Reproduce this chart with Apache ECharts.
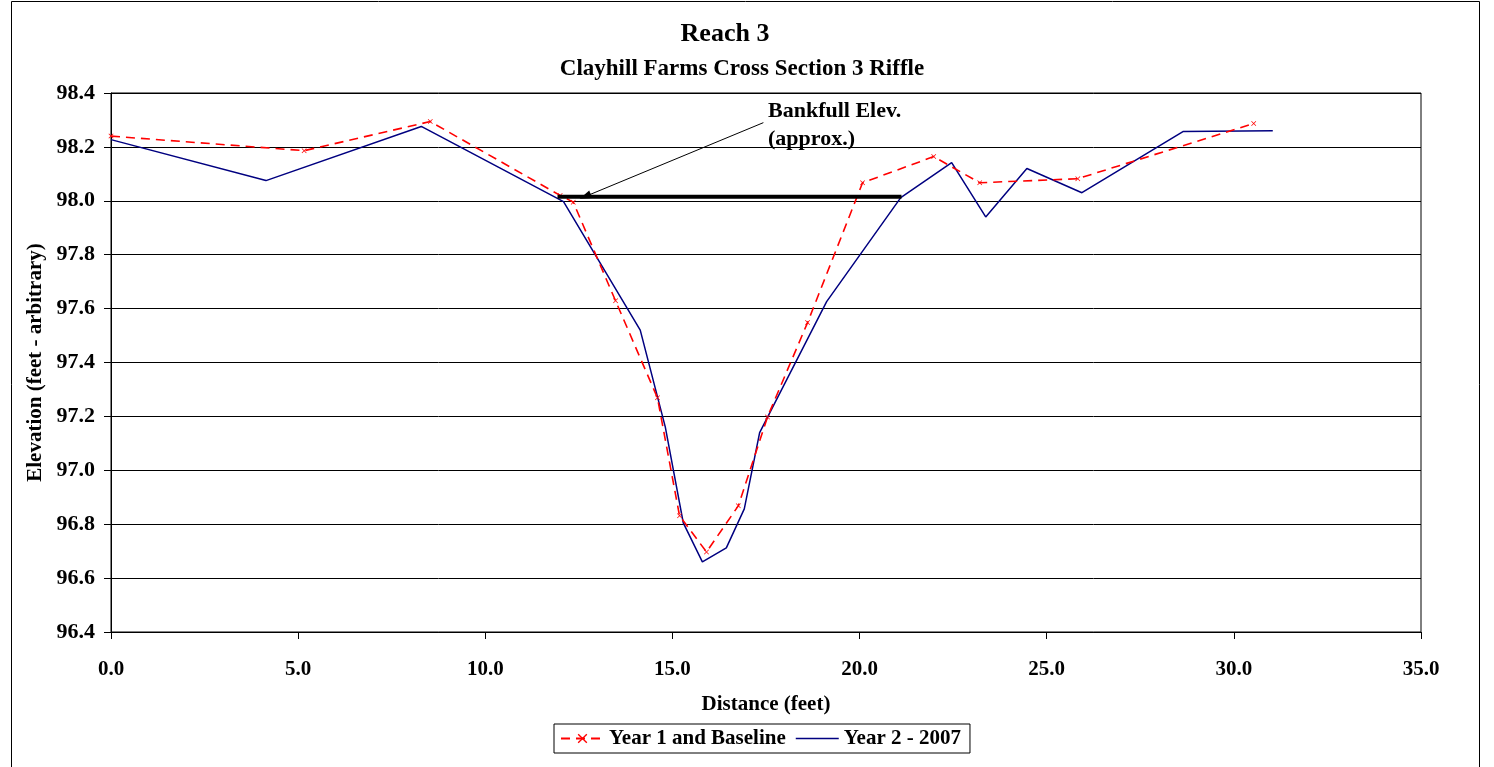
<!DOCTYPE html>
<html>
<head>
<meta charset="utf-8">
<title>Reach 3</title>
<script src="https://cdn.jsdelivr.net/npm/echarts@6/dist/echarts.min.js"></script>
<style>
  html, body { margin: 0; padding: 0; background: #fff; }
  #chart { width: 1494px; height: 767px; }
</style>
</head>
<body>
<div id="chart"></div>
<script>
// 数据
var year1Dist = [0.0, 5.16, 8.53, 12.0, 12.35, 13.48, 14.6, 15.19, 15.91, 16.76, 17.54, 18.61, 20.08, 21.98, 23.21, 25.83, 30.53];
var year1Elev = [98.24, 98.186, 98.294, 98.02, 97.995, 97.629, 97.269, 96.831, 96.697, 96.868, 97.198, 97.548, 98.067, 98.164, 98.067, 98.082, 98.287];

var year2Dist = [0.0, 4.14, 8.29, 12.09, 14.14, 14.81, 15.29, 15.8, 16.44, 16.92, 17.33, 19.12, 21.1, 22.46, 23.37, 24.47, 25.94, 28.64, 31.04];
var year2Elev = [98.227, 98.075, 98.276, 97.997, 97.52, 97.16, 96.805, 96.66, 96.712, 96.857, 97.14, 97.626, 98.012, 98.142, 97.94, 98.12, 98.03, 98.257, 98.26];

// bankfull line and arrow
var bankfullDist = [11.93, 21.12];
var bankfullElev = 98.015;
var arrowFrom = [17.43, 98.29];
var arrowTo = [12.67, 98.016];

function pairs(xs, ys) {
    var out = [];
    for (var i = 0; i < xs.length; i++) {
        out.push([xs[i], ys[i]]);
    }
    return out;
}

var font = 'Liberation Serif';
var myChart = echarts.init(document.getElementById('chart'));

var option = {
    backgroundColor: '#fff',
    animation: false,
    textStyle: { fontFamily: font },
    title: [
        { text: 'Reach 3', left: 720, top: 16, textAlign: 'center',
          textStyle: { fontFamily: font, fontSize: 26, fontWeight: 'bold', color: '#000' } },
        { text: 'Clayhill Farms Cross Section 3 Riffle', left: 737, top: 53, textAlign: 'center',
          textStyle: { fontFamily: font, fontSize: 23, fontWeight: 'bold', color: '#000' } }
    ],
    grid: {
        left: 111, top: 93, right: 73, bottom: 135,
        show: true, borderColor: '#000', borderWidth: 1, backgroundColor: '#fff'
    },
    legend: {
        left: 554, top: 724,
        padding: [4, 9, 4, 6],
        itemGap: 10,
        itemWidth: 43,
        itemHeight: 12,
        borderColor: '#000',
        borderWidth: 1,
        textStyle: { fontFamily: font, fontSize: 21, fontWeight: 'bold', color: '#000' },
        data: [
            { name: 'Year 1 and Baseline' },
            { name: 'Year 2 - 2007', icon: 'path://M0 0H40V1.5H0Z' }
        ]
    },
    xAxis: {
        type: 'value',
        min: 0, max: 35, interval: 5,
        name: 'Distance (feet)',
        nameLocation: 'middle',
        nameGap: 62,
        nameTextStyle: { fontFamily: font, fontSize: 21, fontWeight: 'bold', color: '#000' },
        axisLine: { show: true, onZero: false, lineStyle: { color: '#000', width: 1 } },
        axisTick: { show: true, length: 7, lineStyle: { color: '#000' } },
        axisLabel: {
            margin: 27, fontFamily: font, fontSize: 21, fontWeight: 'bold', color: '#000',
            formatter: function (v) { return v.toFixed(1); }
        },
        splitLine: { show: false }
    },
    yAxis: {
        type: 'value',
        min: 96.4, max: 98.4, interval: 0.2,
        name: 'Elevation (feet - arbitrary)',
        nameLocation: 'middle',
        nameGap: 63,
        nameTextStyle: { fontFamily: font, fontSize: 21, fontWeight: 'bold', color: '#000' },
        axisLine: { show: true, lineStyle: { color: '#000', width: 1 } },
        axisTick: { show: true, length: 7, lineStyle: { color: '#000' } },
        axisLabel: {
            margin: 16, fontFamily: font, fontSize: 22, fontWeight: 'bold', color: '#000',
            formatter: function (v) { return v.toFixed(1); }
        },
        splitLine: { show: true, lineStyle: { color: '#000', width: 1 } }
    },
    series: [
        {
            name: 'Year 1 and Baseline',
            type: 'line',
            data: pairs(year1Dist, year1Elev),
            symbol: 'path://M0 1L1 0L5 4L9 0L10 1L6 5L10 9L9 10L5 6L1 10L0 9L4 5Z',
            symbolSize: 5,
            itemStyle: { color: '#ff0000' },
            lineStyle: { color: '#ff0000', width: 1.6, type: [9, 6] },
            z: 3
        },
        {
            name: 'Year 2 - 2007',
            type: 'line',
            data: pairs(year2Dist, year2Elev),
            symbol: 'none',
            itemStyle: { color: '#000080' },
            lineStyle: { color: '#000080', width: 1.5 },
            z: 2
        },
        {
            // bankfull elevation line with arrow annotation
            name: 'Bankfull',
            type: 'line',
            data: [[bankfullDist[0], bankfullElev], [bankfullDist[1], bankfullElev]],
            symbol: 'none',
            lineStyle: { color: '#000', width: 4 },
            z: 4,
            silent: true,
            markLine: {
                silent: true,
                symbol: ['none', 'triangle'],
                symbolSize: [8, 12],
                label: { show: false },
                lineStyle: { color: '#000', width: 1, type: 'solid' },
                data: [[{ coord: arrowFrom }, { coord: arrowTo }]]
            }
        }
    ],
    graphic: [
        {
            type: 'rect',
            shape: { x: 11.5, y: 1.5, width: 1468, height: 770 },
            style: { fill: null, stroke: '#000', lineWidth: 1 },
            silent: true
        },
        {
            type: 'text',
            left: 768, top: 97,
            style: {
                text: 'Bankfull Elev.\n(approx.)',
                fontFamily: font, fontSize: 22, fontWeight: 'bold',
                fill: '#000', lineHeight: 28
            }
        }
    ]
};

myChart.setOption(option);
</script>
</body>
</html>
